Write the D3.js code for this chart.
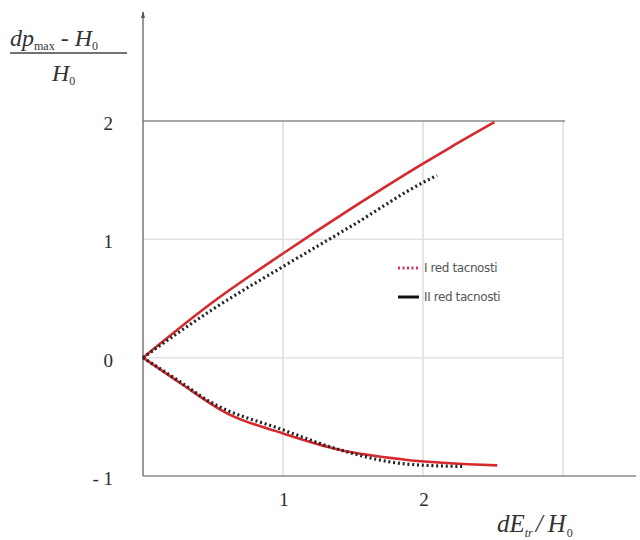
<!DOCTYPE html>
<html>
<head>
<meta charset="utf-8">
<script src="https://cdn.jsdelivr.net/npm/d3@7"></script>
<style>
  body { margin: 0; background: #fff; }
  svg { display: block; }
</style>
</head>
<body>
<div id="chart"></div>
<script>
// values
const xTicks = [1, 2];
const yTicks = [2, 1, 0, -1];
const yTickLabels = ["2", "1", "0", "- 1"];
const xGrid = [1, 2, 3];

// II red (solid red)
const upperSolid = [[0, 0], [0.5, 0.47], [1, 0.88], [1.5, 1.27], [2, 1.64], [2.2, 1.78], [2.51, 1.99]];
const lowerSolid = [[0, 0], [0.26, -0.21], [0.6, -0.47], [1, -0.64], [1.41, -0.78], [1.86, -0.86], [2.53, -0.91]];
// I red (dotted black)
const upperDotted = [[0, 0], [0.5, 0.41], [1, 0.77], [1.5, 1.12], [2, 1.48], [2.1, 1.54]];
const lowerDotted = [[0, 0], [0.26, -0.2], [0.46, -0.36], [1, -0.61], [1.41, -0.78], [1.89, -0.9], [2.3, -0.92]];

const legendLabels = ["I red tacnosti", "II red tacnosti"];

const width = 640, height = 540;
const svg = d3.select("#chart").append("svg")
  .attr("width", width)
  .attr("height", height);

const x = d3.scaleLinear().domain([0, 3]).range([143, 563]);
const y = d3.scaleLinear().domain([-1, 2]).range([476, 121]);

// grid
svg.selectAll(".vgrid")
  .data(xGrid)
  .enter().append("line")
  .attr("x1", d => x(d)).attr("x2", d => x(d))
  .attr("y1", y(2)).attr("y2", y(-1))
  .attr("stroke", "#dcdcdc").attr("stroke-width", 1.5);

svg.selectAll(".hgrid")
  .data([1, 0])
  .enter().append("line")
  .attr("x1", x(0)).attr("x2", x(3))
  .attr("y1", d => y(d)).attr("y2", d => y(d))
  .attr("stroke", "#e2e2e2").attr("stroke-width", 1.5);

// top border at 2
svg.append("line")
  .attr("x1", x(0)).attr("x2", x(3) + 2)
  .attr("y1", y(2)).attr("y2", y(2))
  .attr("stroke", "#8a8a8a").attr("stroke-width", 1.5);

// axes
svg.append("line")
  .attr("x1", x(0)).attr("x2", 636)
  .attr("y1", y(-1)).attr("y2", y(-1))
  .attr("stroke", "#8a8a8a").attr("stroke-width", 1.5);

svg.append("line")
  .attr("x1", x(0)).attr("x2", x(0))
  .attr("y1", 12).attr("y2", y(-1))
  .attr("stroke", "#777").attr("stroke-width", 1.5);
svg.append("path")
  .attr("d", `M${x(0) - 2},18 L${x(0)},11 L${x(0) + 2},18 Z`)
  .attr("fill", "#555");

// tick labels
svg.selectAll(".ylab")
  .data(yTicks)
  .enter().append("text")
  .attr("x", 113)
  .attr("y", d => y(d) + 9)
  .attr("text-anchor", "end")
  .attr("font-family", "Liberation Serif, serif")
  .attr("font-size", 19)
  .attr("fill", "#2a2a2a")
  .text((d, i) => yTickLabels[i]);

svg.selectAll(".xlab")
  .data(xTicks)
  .enter().append("text")
  .attr("x", d => x(d) + 1)
  .attr("y", 506)
  .attr("text-anchor", "middle")
  .attr("font-family", "Liberation Serif, serif")
  .attr("font-size", 19)
  .attr("fill", "#2a2a2a")
  .text(d => d);

// curves
const line = d3.line()
  .x(d => x(d[0]))
  .y(d => y(d[1]))
  .curve(d3.curveMonotoneX);

[upperSolid, lowerSolid].forEach(s => {
  svg.append("path")
    .datum(s)
    .attr("d", line)
    .attr("fill", "none")
    .attr("stroke", "#d42a2e")
    .attr("stroke-width", 2.6);
});

[upperDotted, lowerDotted].forEach(s => {
  svg.append("path")
    .datum(s)
    .attr("d", line)
    .attr("fill", "none")
    .attr("stroke", "#222")
    .attr("stroke-width", 3.2)
    .attr("stroke-dasharray", "2,2.8");
});

// legend
const legend = svg.append("g").attr("transform", "translate(398,268)");
legend.append("line")
  .attr("x1", 0).attr("x2", 21).attr("y1", 0).attr("y2", 0)
  .attr("stroke", "#d8306a").attr("stroke-width", 3)
  .attr("stroke-dasharray", "2,2.5");
legend.append("line")
  .attr("x1", 0).attr("x2", 21).attr("y1", 29).attr("y2", 29)
  .attr("stroke", "#111").attr("stroke-width", 3);
legend.selectAll("text")
  .data(legendLabels)
  .enter().append("text")
  .attr("x", 26)
  .attr("y", (d, i) => i * 29 + 4)
  .attr("font-family", "DejaVu Sans, sans-serif")
  .attr("font-size", 12)
  .attr("letter-spacing", -0.4)
  .attr("fill", "#555")
  .text(d => d);

// y title (fraction)
const serif = "Liberation Serif, serif";
const yt = svg.append("text")
  .attr("x", 10).attr("y", 46)
  .attr("font-family", serif).attr("font-style", "italic")
  .attr("font-size", 24).attr("fill", "#333");
yt.append("tspan").text("dp");
yt.append("tspan").attr("font-size", 12).attr("font-style", "normal").attr("dy", 4).text("max");
yt.append("tspan").attr("dy", -4).attr("font-style", "normal").text(" - ");
yt.append("tspan").text("H");
yt.append("tspan").attr("font-size", 12).attr("font-style", "normal").attr("dy", 4).text("0");

svg.append("line")
  .attr("x1", 10).attr("x2", 127).attr("y1", 53).attr("y2", 53)
  .attr("stroke", "#444").attr("stroke-width", 1.3);

const yb = svg.append("text")
  .attr("x", 52).attr("y", 81)
  .attr("font-family", serif).attr("font-style", "italic")
  .attr("font-size", 24).attr("fill", "#333");
yb.append("tspan").text("H");
yb.append("tspan").attr("font-size", 12).attr("font-style", "normal").attr("dy", 4).text("0");

// x title
const xt = svg.append("text")
  .attr("x", 497).attr("y", 532)
  .attr("font-family", serif).attr("font-style", "italic")
  .attr("font-size", 25).attr("fill", "#333");
xt.append("tspan").text("dE");
xt.append("tspan").attr("font-size", 12).attr("dy", 5).text("tr");
xt.append("tspan").attr("dy", -5).attr("dx", 3).text("/");
xt.append("tspan").attr("dx", 5).text("H");
xt.append("tspan").attr("font-size", 12).attr("font-style", "normal").attr("dy", 5).attr("dx", 1).text("0");
</script>
</body>
</html>
